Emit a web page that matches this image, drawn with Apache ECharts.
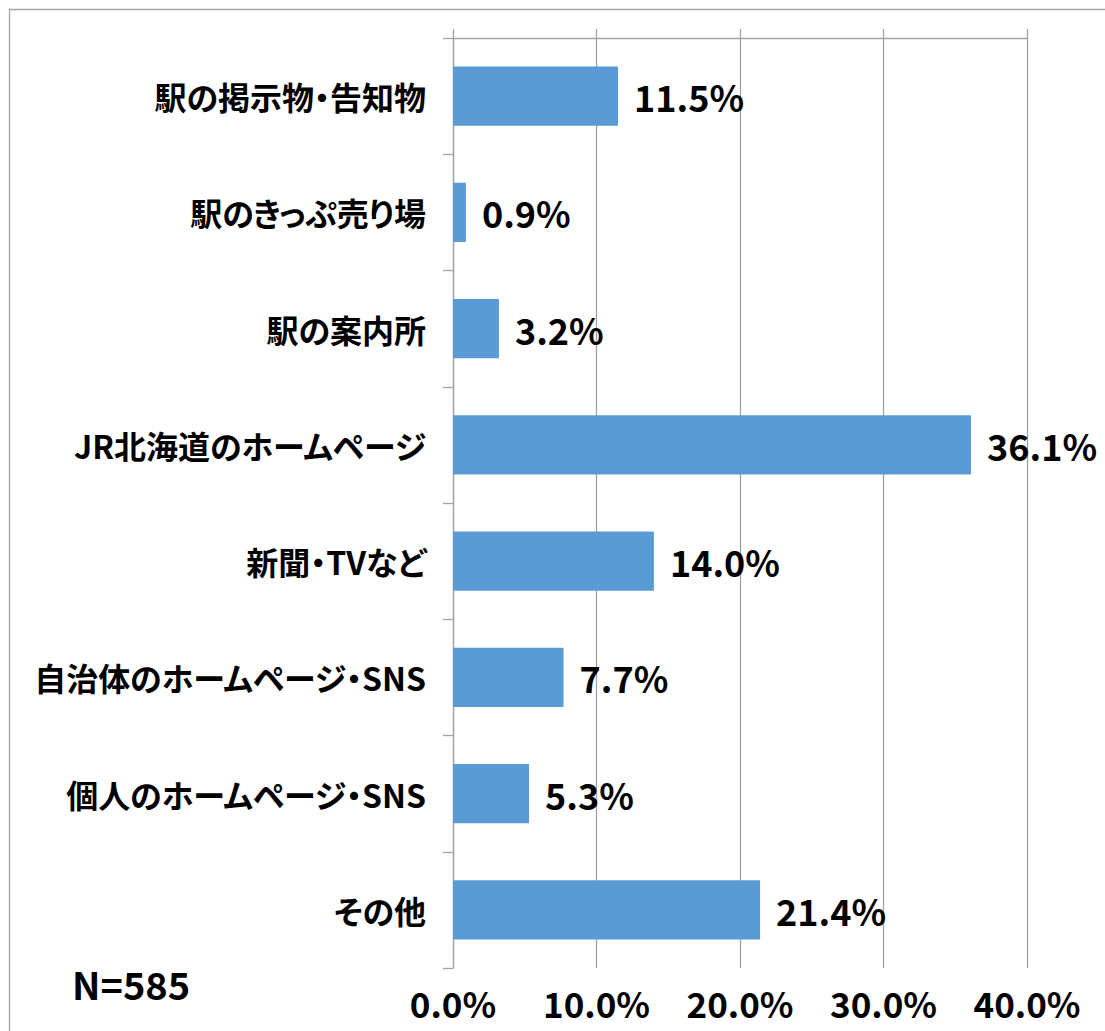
<!DOCTYPE html>
<html>
<head>
<meta charset="utf-8">
<script src="https://cdn.jsdelivr.net/npm/echarts@6/dist/echarts.min.js"></script>
<style>
html,body{margin:0;padding:0;background:#fff;}
#chart{width:1105px;height:1031px;}
#chart text{font-feature-settings:"palt" 1 !important;}
</style>
</head>
<body>
<div id="chart"></div>
<script>
const categories = ['駅の掲示物・告知物','駅のきっぷ売り場','駅の案内所','JR北海道のホームページ','新聞・TVなど','自治体のホームページ・SNS','個人のホームページ・SNS','その他'];
const values = [11.5, 0.9, 3.2, 36.1, 14.0, 7.7, 5.3, 21.4];
const xTicks = [0, 10, 20, 30, 40];
const noteText = 'N=585';

const FONT = '"Noto Sans CJK JP", "Noto Sans", sans-serif';
const GRAY = '#A3A3A3';

const chart = echarts.init(document.getElementById('chart'), null, {renderer: 'svg'});
chart.setOption({
  animation: false,
  backgroundColor: '#fff',
  textStyle: {fontFamily: FONT},
  grid: {left: 453, right: 78, top: 38, bottom: 63, containLabel: false, outerBoundsMode: 'none'},
  xAxis: [
    {
      type: 'value', position: 'top',
      min: xTicks[0], max: xTicks[xTicks.length - 1], interval: 10,
      axisLine: {show: true, lineStyle: {color: GRAY, width: 1.3}},
      axisTick: {show: true, length: 9, inside: false, lineStyle: {color: GRAY, width: 1.3}},
      axisLabel: {show: false},
      splitLine: {show: true, lineStyle: {color: GRAY, width: 1.3}}
    },
    {
      type: 'value', position: 'bottom',
      min: xTicks[0], max: xTicks[xTicks.length - 1], interval: 10,
      axisLine: {show: false},
      axisTick: {show: false},
      splitLine: {show: false},
      axisLabel: {
        show: true, margin: 17,
        formatter: v => v.toFixed(1) + '%',
        color: '#000', fontSize: 35, fontWeight: 'bold', fontFamily: FONT
      }
    }
  ],
  yAxis: {
    type: 'category', inverse: true, data: categories,
    axisLine: {show: true, lineStyle: {color: GRAY, width: 1.3}},
    axisTick: {show: true, length: 10, inside: false, lineStyle: {color: GRAY, width: 1.3}},
    axisLabel: {margin: 27, color: '#000', fontSize: 32, fontWeight: 'bold', fontFamily: FONT},
    splitLine: {show: false}
  },
  series: [{
    type: 'bar', xAxisIndex: 0, data: values,
    barCategoryGap: '49%',
    itemStyle: {color: '#5B9BD5'},
    label: {
      show: true, position: 'right', distance: 16,
      formatter: p => p.value.toFixed(1) + '%',
      color: '#000', fontSize: 36, fontWeight: 'bold', fontFamily: FONT
    }
  }],
  graphic: [
    {type: 'rect', shape: {x: 9.5, y: 9.5, width: 1300, height: 1300}, style: {fill: 'none', stroke: GRAY, lineWidth: 1.3}, z: -1},
    {type: 'text', left: 72, top: 964, style: {text: noteText, fill: '#000', fontSize: 38, fontWeight: 'bold', fontFamily: FONT}}
  ]
});
</script>
</body>
</html>
